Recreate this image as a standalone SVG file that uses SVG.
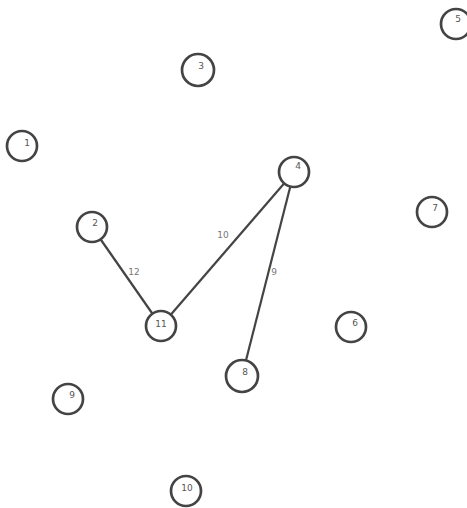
<svg xmlns="http://www.w3.org/2000/svg" width="467" height="508" viewBox="0 0 467 508">
<style>
.n circle{fill:#fff;stroke:#444;stroke-width:2.7}
.n text{font-family:"DejaVu Sans",sans-serif;font-size:9px;fill:#555;text-anchor:middle}
.e line{stroke:#444;stroke-width:2.2}
.e text{font-family:"DejaVu Sans",sans-serif;font-size:9px;fill:#777;text-anchor:middle}
</style>
<rect width="467" height="508" fill="#fff"/>
<g id="edges" class="e">
<line x1="92" y1="227" x2="161" y2="326"/>
<line x1="294" y1="172" x2="161" y2="326"/>
<line x1="294" y1="172" x2="242" y2="376"/>
<text x="134" y="275">12</text>
<text x="223" y="238">10</text>
<text x="274" y="275">9</text>
</g>
<g id="node5" class="n"><circle cx="456" cy="24" r="15"/><text x="458" y="22">5</text></g>
<g id="node3" class="n"><circle cx="198" cy="70" r="16"/><text x="201" y="69">3</text></g>
<g id="node1" class="n"><circle cx="22" cy="146" r="15"/><text x="27" y="146">1</text></g>
<g id="node4" class="n"><circle cx="294" cy="172" r="15"/><text x="298" y="169">4</text></g>
<g id="node7" class="n"><circle cx="432" cy="212" r="15"/><text x="435" y="211">7</text></g>
<g id="node2" class="n"><circle cx="92" cy="227" r="15"/><text x="95" y="226">2</text></g>
<g id="node11" class="n"><circle cx="161" cy="326" r="15"/><text x="161" y="327">11</text></g>
<g id="node6" class="n"><circle cx="351" cy="327" r="15"/><text x="355" y="326">6</text></g>
<g id="node8" class="n"><circle cx="242" cy="376" r="16"/><text x="245" y="375">8</text></g>
<g id="node9" class="n"><circle cx="68" cy="399" r="15"/><text x="72" y="398">9</text></g>
<g id="node10" class="n"><circle cx="186" cy="491" r="15"/><text x="187" y="491">10</text></g>
</svg>
